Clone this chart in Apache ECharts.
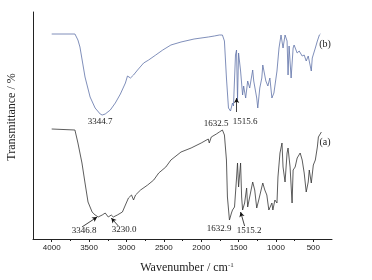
<!DOCTYPE html>
<html>
<head>
<meta charset="utf-8">
<script src="https://cdn.jsdelivr.net/npm/echarts@6/dist/echarts.min.js"></script>
<style>
html,body{margin:0;padding:0;background:#fff;}
#c{width:372px;height:280px;}
</style>
</head>
<body>
<div id="c"></div>
<script>
// Spectrum (b) — wavenumber (cm-1) and transmittance (arbitrary units)
var bWave = [4000,3689,3649,3622,3554,3486,3419,3351,3324,3284,3216,3149,3081,3014,2986,2946,2905,2851,2770,2703,2608,2514,2405,2270,2095,1905,1824,1757,1716,1689,1662,1635,1608,1581,1568,1541,1527,1514,1500,1473,1446,1432,1405,1378,1351,1311,1297,1257,1243,1216,1189,1176,1135,1108,1081,1054,1027,986,959,932,905,878,851,838,824,797,770,757,716,689,649,622,595,568,527,514,473,446,419,405];
var bT    = [205,205,199,192,162,142,131,125,124,125,129,136,145,156,163,161,164,169,176,179,184,189,194,197,200,202,203,204,204,198,161,131,128,136,133,184,189,139,186,168,144,153,141,158,151,169,158,141,131,151,161,174,158,153,161,141,146,168,191,204,191,204,198,164,193,161,191,194,186,188,183,184,178,183,168,181,191,198,204,205];
// Spectrum (a)
var aWave = [4000,3689,3649,3595,3554,3514,3459,3419,3378,3324,3284,3243,3203,3176,3122,3054,3014,2973,2932,2905,2878,2811,2716,2635,2568,2473,2405,2270,2135,2000,1905,1892,1865,1797,1757,1716,1689,1662,1649,1622,1595,1581,1554,1527,1514,1500,1473,1459,1446,1419,1392,1378,1338,1311,1284,1257,1230,1189,1176,1149,1122,1095,1054,1041,1014,986,973,946,919,905,878,851,838,811,784,770,743,716,676,649,622,595,568,554,527,500,473,446,432,392];
var aT    = [110,109,96,76,56,37,27,24,22,24,26,22,24,22,24,27,34,41,44,39,44,49,54,59,66,72,79,87,91,96,100,96,102,105,107,109,104,79,42,19,26,29,32,61,76,52,76,42,29,36,51,32,47,57,49,31,39,52,56,49,44,29,36,29,39,36,62,86,96,72,57,86,91,72,36,69,72,81,86,79,66,47,57,69,56,74,79,92,102,107];

var majorTicks = [4000,3500,3000,2500,2000,1500,1000,500];
var minorTicks = [3750,3250,2750,2250,1750,1250,750];

var peakLabels = ['3344.7','1632.5','1515.6','3346.8','3230.0','1632.9','1515.2'];
var seriesLabels = ['(b)','(a)'];

function zip(x, y){ return x.map(function(v,i){ return [v, y[i]]; }); }

var serif = "'Liberation Serif','Times New Roman',serif";
var arrowStyle = {color:'#111', width:0.8, type:'solid'};
function arrow(w1,t1,w2,t2){ return [{coord:[w1,t1]},{coord:[w2,t2]}]; }

var chart = echarts.init(document.getElementById('c'), null, {renderer:'canvas'});
chart.setOption({
  backgroundColor:'#fff',
  animation:false,
  grid:{left:33, right:40, top:12, bottom:41},
  xAxis:[{
    type:'value', position:'bottom', min:250, max:4250, inverse:true,
    axisLine:{show:true, onZero:false, lineStyle:{color:'#222', width:1}},
    axisTick:{show:true, inside:false, length:3, customValues:majorTicks, lineStyle:{color:'#222'}},
    axisLabel:{show:true, customValues:majorTicks, margin:5, fontFamily:"'Liberation Sans',Arial,sans-serif", fontSize:8, color:'#222',
      formatter:function(v){ return String(v); }},
    splitLine:{show:false}
  },{
    type:'value', position:'bottom', min:250, max:4250, inverse:true,
    axisLine:{show:false, onZero:false},
    axisTick:{show:true, inside:false, length:2, customValues:minorTicks, lineStyle:{color:'#222'}},
    axisLabel:{show:false},
    splitLine:{show:false}
  }],
  yAxis:{
    type:'value', min:0, max:227,
    axisLine:{show:true, onZero:false, lineStyle:{color:'#222', width:1}},
    axisTick:{show:false}, axisLabel:{show:false}, splitLine:{show:false}
  },
  series:[{
    type:'line', data:zip(bWave,bT), showSymbol:false, symbol:'none',
    lineStyle:{color:'#5f72a8', width:0.8}, z:3
  },{
    type:'line', data:zip(aWave,aT), showSymbol:false, symbol:'none',
    lineStyle:{color:'#333', width:0.8}, z:3,
    markLine:{
      silent:true, symbol:['none','arrow'], symbolSize:[4,5],
      label:{show:false}, lineStyle:arrowStyle,
      data:[
        arrow(3595,12,3392,22),
        arrow(3108,13,3203,21),
        arrow(1527,127,1527,141),
        arrow(1419,13,1473,27)
      ]
    }
  }],
  graphic:[
    {type:'text', x:100, y:122, style:{text:peakLabels[0], font:'9px '+serif, fill:'#222', align:'center', verticalAlign:'middle'}},
    {type:'text', x:216, y:124, style:{text:peakLabels[1], font:'9px '+serif, fill:'#222', align:'center', verticalAlign:'middle'}},
    {type:'text', x:245, y:122, style:{text:peakLabels[2], font:'9px '+serif, fill:'#222', align:'center', verticalAlign:'middle'}},
    {type:'text', x:84, y:231, style:{text:peakLabels[3], font:'9px '+serif, fill:'#222', align:'center', verticalAlign:'middle'}},
    {type:'text', x:124, y:230, style:{text:peakLabels[4], font:'9px '+serif, fill:'#222', align:'center', verticalAlign:'middle'}},
    {type:'text', x:219, y:229, style:{text:peakLabels[5], font:'9px '+serif, fill:'#222', align:'center', verticalAlign:'middle'}},
    {type:'text', x:249, y:231, style:{text:peakLabels[6], font:'9px '+serif, fill:'#222', align:'center', verticalAlign:'middle'}},
    {type:'text', x:325, y:44, style:{text:seriesLabels[0], font:'10px '+serif, fill:'#222', align:'center', verticalAlign:'middle'}},
    {type:'text', x:325, y:142, style:{text:seriesLabels[1], font:'10px '+serif, fill:'#222', align:'center', verticalAlign:'middle'}},
    {type:'text', x:12, y:117, rotation:Math.PI/2, style:{text:'Transmittance / %', font:'12px '+serif, fill:'#222', align:'center', verticalAlign:'middle'}},
    {type:'text', x:187, y:268, style:{
      text:'{a|Wavenumber / cm}{s|-1}', align:'center', verticalAlign:'middle',
      rich:{a:{fontFamily:serif, fontSize:12, fill:'#222', color:'#222'}, s:{fontFamily:serif, fontSize:7, color:'#222', fill:'#222', verticalAlign:'top', padding:[0,0,6,0]}}
    }}
  ]
});
</script>
</body>
</html>
